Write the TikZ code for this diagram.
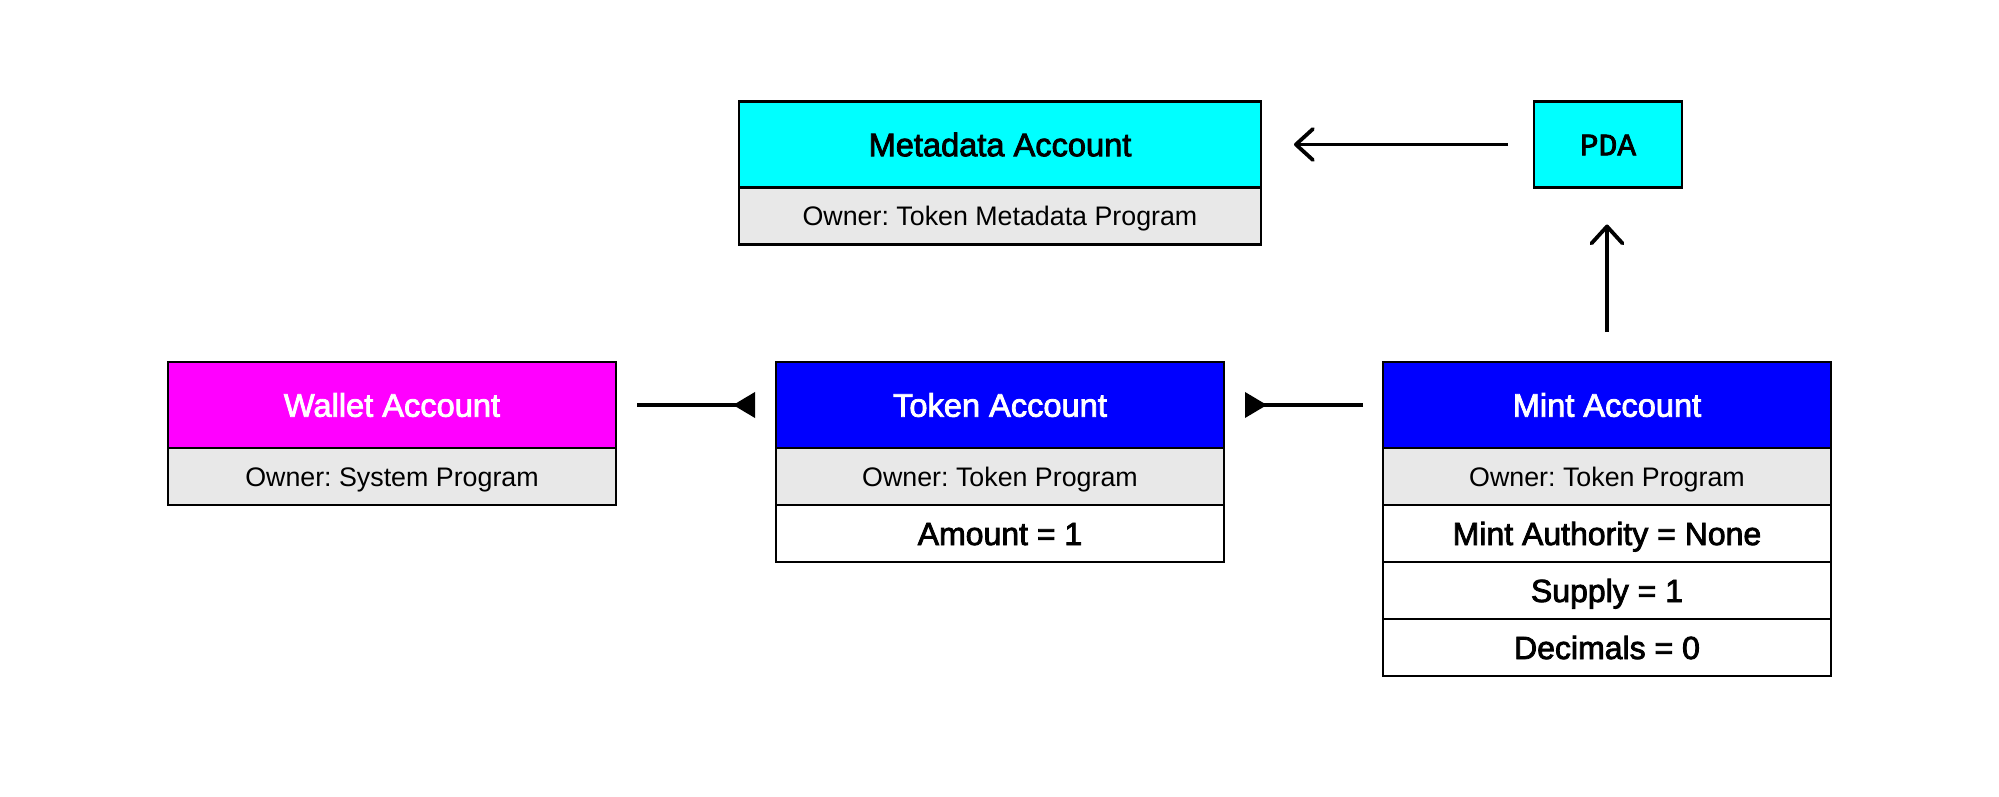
\documentclass[tikz,border=0pt]{standalone}
\usepackage{fontspec}
\setmainfont{Liberation Sans}
\newfontfamily\medfont[FakeBold=2.5]{Liberation Sans}
\newfontfamily\pdafont[FakeBold=2.5]{Liberation Mono}
\usetikzlibrary{positioning,arrows.meta}
\definecolor{acccyan}{HTML}{00FFFF}
\definecolor{accmagenta}{HTML}{FF00FF}
\definecolor{accblue}{HTML}{0000FF}
\definecolor{ownergrey}{HTML}{E8E8E8}
\frenchspacing
\begin{document}
\begin{tikzpicture}[x=0.5pt, y=-0.5pt,
        head/.style={draw, line width=1.4pt, minimum width=224pt, minimum height=43pt, inner sep=0pt, outer sep=0pt, text height=11.7pt, text depth=0pt, font=\medfont\fontsize{16.3}{18}\selectfont},
        owner/.style={draw, line width=1.4pt, fill=ownergrey, minimum width=224pt, minimum height=28.5pt, inner sep=0pt, outer sep=0pt, text height=9.6pt, text depth=0pt, font=\fontsize{13.4}{15}\selectfont},
        field/.style={draw, line width=1.4pt, fill=white, minimum width=224pt, minimum height=28.5pt, inner sep=0pt, outer sep=0pt, text height=11.5pt, text depth=0pt, font=\medfont\fontsize{16}{18}\selectfont},
        link/.style={line width=1.9pt},
        barb/.style={-{Straight Barb[length=8.5pt, width=15.5pt, round]}},
        wedge/.style={-{Triangle[reversed, length=11pt, width=12.5pt]}}]
        \fill[white] (0,0) rectangle (1999,797);
        \useasboundingbox (0,0) rectangle (1999,797);

        \node[head, fill=acccyan, minimum width=261pt] (metahead) at (1000,144.5) {Metadata Account};
        \node[owner, minimum width=261pt, below=0pt of metahead] (metaowner) {Owner: Token Metadata Program};
        \node[head, fill=acccyan, minimum width=74pt, text height=10.8pt] (pda) at (1608,144.5) {\pdafont\fontsize{15.6}{17}\selectfont PDA};

        \node[head, fill=accmagenta, text=white] (wallethead) at (392,405) {Wallet Account};
        \node[owner, below=0pt of wallethead] (walletowner) {Owner: System Program};

        \node[head, fill=accblue, text=white] (tokenhead) at (1000,405) {Token Account};
        \node[owner, below=0pt of tokenhead] (tokenowner) {Owner: Token Program};
        \node[field, below=0pt of tokenowner] (amount) {Amount = 1};

        \node[head, fill=accblue, text=white] (minthead) at (1607,405) {Mint Account};
        \node[owner, below=0pt of minthead] (mintowner) {Owner: Token Program};
        \node[field, below=0pt of mintowner] (authority) {Mint Authority = None};
        \node[field, below=0pt of authority] (supply) {Supply = 1};
        \node[field, below=0pt of supply] (decimals) {Decimals = 0};

        \draw[link, barb, shorten <=13pt, shorten >=16.5pt] (pda.west) -- (metahead.east);
        \draw[link, barb, shorten <=15pt, shorten >=18.5pt] (minthead.north) -- (minthead.north |- pda.south);
        \draw[link, wedge, shorten <=10.5pt, shorten >=10.5pt] (wallethead.east) -- (tokenhead.west);
        \draw[link, wedge, shorten <=10pt, shorten >=10.5pt] (minthead.west) -- (tokenhead.east);
\end{tikzpicture}
\end{document}
